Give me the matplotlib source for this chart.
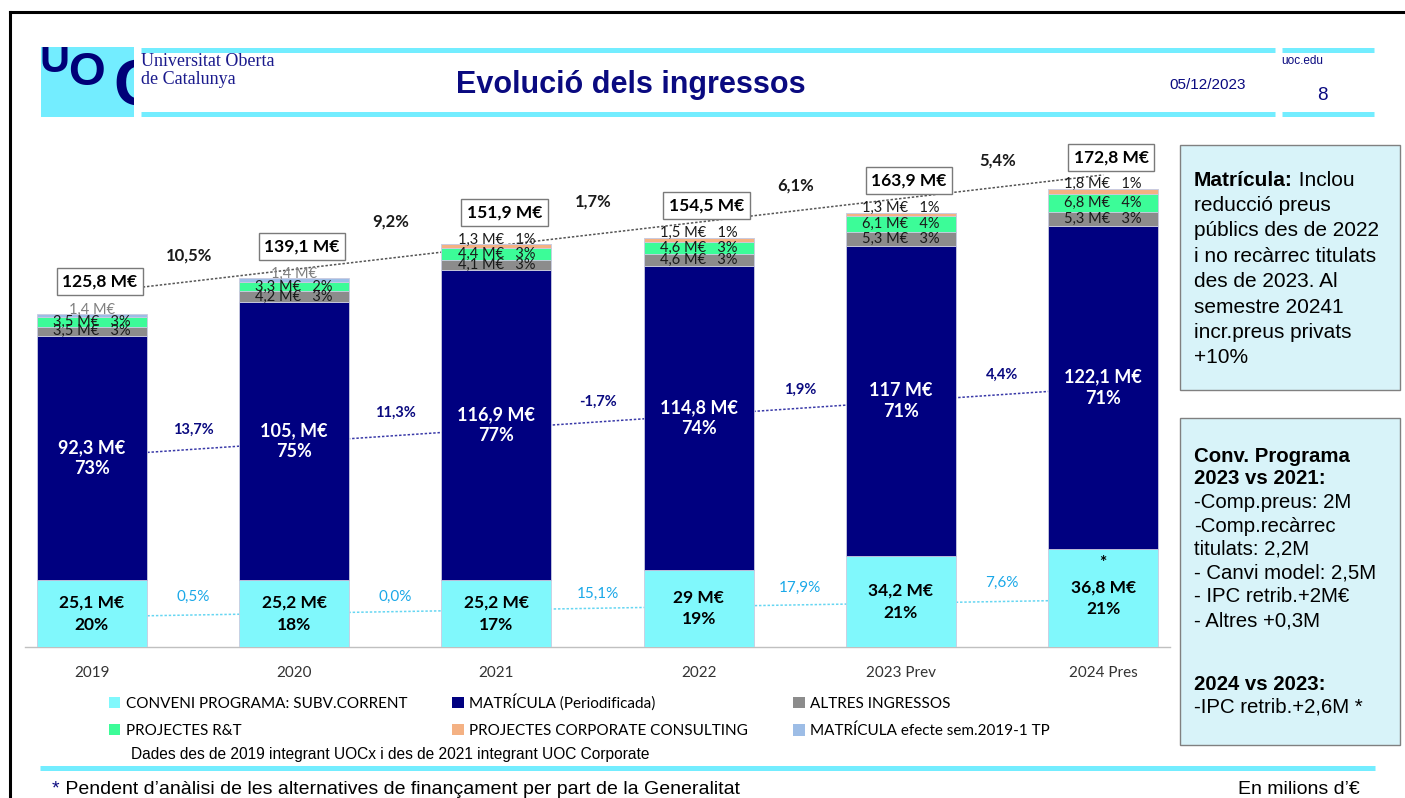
import numpy as np
import matplotlib
matplotlib.use("Agg")
import matplotlib.pyplot as plt
from matplotlib.patches import Rectangle, Patch
from matplotlib import transforms

# ---------------- data ----------------
years = ["2019", "2020", "2021", "2022", "2023 Prev", "2024 Pres"]
conveni = [25.1, 25.2, 25.2, 29.0, 34.2, 36.8]
matricula = [92.3, 105.0, 116.9, 114.8, 117.0, 122.1]
altres = [3.5, 4.2, 4.1, 4.6, 5.3, 5.3]
recerca = [3.5, 3.3, 4.4, 4.6, 6.1, 6.8]
corporate = [0.0, 0.0, 1.3, 1.5, 1.3, 1.8]
efecte = [1.4, 1.4, 0.0, 0.0, 0.0, 0.0]
totals = [125.8, 139.1, 151.9, 154.5, 163.9, 172.8]
mat_text = ["92,3", "105,", "116,9", "114,8", "117", "122,1"]
growth_total = ["10,5%", "9,2%", "1,7%", "6,1%", "5,4%"]
growth_mat = ["13,7%", "11,3%", "-1,7%", "1,9%", "4,4%"]
growth_conv = ["0,5%", "0,0%", "15,1%", "17,9%", "7,6%"]
legend_labels = ["CONVENI PROGRAMA: SUBV.CORRENT", "MATRÍCULA (Periodificada)",
                 "ALTRES INGRESSOS", "PROJECTES R&T",
                 "PROJECTES CORPORATE CONSULTING", "MATRÍCULA efecte sem.2019-1 TP"]

# ---------------- style ----------------
W, H = 1405, 798
P = 0.72  # points per pixel at dpi 100
C_CONV = "#80f8fc"
C_MAT = "#000080"
C_ALT = "#8c8c8c"
C_RT = "#3cfc98"
C_CORP = "#f4b183"
C_EFF = "#9dbde6"
CYAN = "#73edff"
NAVY = "#0a0a80"
CF = "Lato"
AF = "Liberation Sans"

def fmt(v):
    return f"{v:g}".replace(".", ",")

fig = plt.figure(figsize=(W / 100, H / 100), dpi=100)
ov = fig.add_axes([0, 0, 1, 1])
ov.set_xlim(0, W)
ov.set_ylim(H, 0)
ov.axis("off")
ov.set_zorder(0)

# ---------------- slide decorations ----------------
ov.plot([10, W], [12, 12], color="black", lw=2.2)
ov.plot([10, 10], [12, H], color="black", lw=2.2)
logo = Rectangle((41, 47), 93, 70, color=CYAN, lw=0)
ov.add_patch(logo)
for ch, x, y, fs in [("U", 55, 61, 30), ("O", 87, 73, 34), ("C", 137, 88, 47)]:
    t = ov.text(x, y, ch, fontsize=fs, weight="bold", color="#000078", family=AF,
                ha="center", va="center", clip_on=True)
    t.set_clip_path(logo)
ov.text(141, 62, "Universitat Oberta", family="Liberation Serif", fontsize=13,
        color="#1a1a8c", va="center")
ov.text(141, 80, "de Catalunya", family="Liberation Serif", fontsize=13,
        color="#1a1a8c", va="center")
for y in (50, 114):
    ov.plot([141, 1275], [y, y], color=CYAN, lw=3.6, solid_capstyle="butt")
    ov.plot([1282, 1374], [y, y], color=CYAN, lw=3.6, solid_capstyle="butt")
ov.text(631, 85, "Evolució dels ingressos", family=AF, fontsize=22, weight="bold",
        color=NAVY, ha="center", va="center")
ov.text(1208, 85, "05/12/2023", family=AF, fontsize=11, color=NAVY,
        ha="center", va="center")
ov.text(1281, 61, "uoc.edu", family=AF, fontsize=8.5, color=NAVY, va="center")
ov.text(1322, 96, "8", family=AF, fontsize=13.5, color=NAVY, ha="center", va="center")

# right info boxes
FS1 = 15
ov.add_patch(Rectangle((1180, 145), 220, 245, fc="#d8f3f9", ec="#808080", lw=1))
ov.add_patch(Rectangle((1180, 418), 220, 327, fc="#d8f3f9", ec="#808080", lw=1))
t = ov.text(1194, 180, "Matrícula:", family=AF, fontsize=FS1, weight="bold",
            va="center")
ov.annotate(" Inclou", xy=(1, 0), xycoords=t, va="bottom", ha="left",
            family=AF, fontsize=FS1)
box1 = ["reducció preus", "públics des de 2022", "i no recàrrec titulats",
        "des de 2023. Al", "semestre 20241", "incr.preus privats", "+10%"]
for k, line in enumerate(box1):
    ov.text(1194, 205.5 + k * 25.4, line, family=AF, fontsize=FS1, va="center")
box2 = [("Conv. Programa", "bold", 456), ("2023 vs 2021:", "bold", 479),
        ("-Comp.preus: 2M", "normal", 502), ("-Comp.recàrrec", "normal", 526),
        ("titulats: 2,2M", "normal", 549), ("- Canvi model: 2,5M", "normal", 573),
        ("- IPC retrib.+2M€", "normal", 597), ("- Altres +0,3M", "normal", 621),
        ("2024 vs 2023:", "bold", 684), ("-IPC retrib.+2,6M *", "normal", 707)]
for line, w, y in box2:
    ov.text(1194, y, line, family=AF, fontsize=14.7, weight=w, va="center")

# footer
ov.text(131, 755, "Dades des de 2019 integrant UOCx i des de 2021 integrant UOC Corporate",
        family=AF, fontsize=11.2, va="center")
ov.plot([40, 1375], [768, 768], color=CYAN, lw=3.6, solid_capstyle="butt")
t = ov.text(52, 789, "*", family=AF, fontsize=14, color=NAVY, va="center")
ov.annotate(" Pendent d’anàlisi de les alternatives de finançament per part de la Generalitat",
            xy=(1, 0), xycoords=t, va="bottom", ha="left", family=AF, fontsize=14)
ov.text(1360, 789, "En milions d’€", family=AF, fontsize=14, ha="right", va="center")

# ---------------- chart ----------------
ax = fig.add_axes([25 / W, 1 - 647 / H, 1145 / W, (647 - 143) / H])
ax.set_zorder(1)
ax.patch.set_alpha(0)
x = np.arange(len(years))
ax.set_xlim(-0.33, 5.33)
ax.set_ylim(0, 504 / 2.65)

series = [(conveni, C_CONV), (matricula, C_MAT), (altres, C_ALT),
          (recerca, C_RT), (corporate, C_CORP), (efecte, C_EFF)]
bottom = np.zeros(len(years))
bottoms = []
for vals, col in series:
    v = np.array(vals)
    ax.bar(x, v, 0.545, bottom=bottom, color=col, edgecolor="#c9cbe0",
           linewidth=0.6, zorder=3)
    bottoms.append(bottom.copy())
    bottom = bottom + v

tot = np.array(totals)
conv = np.array(conveni)
mat = np.array(matricula)
conv_mid = conv / 2
mat_mid = conv + mat / 2

# trend lines
xs = np.linspace(0, 5, 50)
up = transforms.offset_copy(ax.transData, fig=fig, x=0, y=12 * P, units="points")
ax.plot(xs, np.polyval(np.polyfit(x, tot, 1), xs), color="#555555", lw=1.1,
        ls=(0, (1.6, 1.2)), zorder=2, transform=up)
ax.plot(xs, np.polyval(np.polyfit(x, mat_mid, 1), xs), color="#3a3aa8", lw=1.1,
        ls=(0, (1.6, 1.2)), zorder=2)
ax.plot(xs, np.polyval(np.polyfit(x, conv_mid, 1), xs), color="#66d6f2", lw=1.1,
        ls=(0, (1.6, 1.2)), zorder=2)

# segment labels
for i in range(len(years)):
    ax.text(i, conv_mid[i], f"{fmt(conv[i])} M€\n{round(conv[i] / tot[i] * 100)}%",
            ha="center", va="center", fontsize=12.5, weight="bold", family=CF,
            color="black", linespacing=1.45, zorder=5)
    ax.text(i, mat_mid[i], f"{mat_text[i]} M€\n{round(mat[i] / tot[i] * 100)}%",
            ha="center", va="center", fontsize=13, weight="bold", family=CF,
            color="white", linespacing=1.3, zorder=5)
    for vals, k in [(altres, 2), (recerca, 3)]:
        v = vals[i]
        ax.text(i, bottoms[k][i] + v / 2, f"{fmt(v)} M€   {round(v / tot[i] * 100)}%",
                ha="center", va="center", fontsize=10.5, family=CF, color="#1a1a1a",
                zorder=5)
    if corporate[i] > 0:
        v = corporate[i]
        ax.annotate(f"{fmt(v)} M€   {round(v / tot[i] * 100)}%",
                    xy=(i, bottoms[4][i] + v), xytext=(0, -1.5), textcoords="offset points",
                    ha="center", va="bottom", fontsize=10.5, family=CF, color="#1a1a1a",
                    zorder=5)
    if efecte[i] > 0:
        v = efecte[i]
        ax.annotate(f"{fmt(v)} M€", xy=(i, bottoms[5][i] + v), xytext=(0, -2),
                    textcoords="offset points", ha="center", va="bottom", fontsize=10.5,
                    family=CF, color="#808080", zorder=5)
    ax.annotate(f"{fmt(tot[i])} M€", xy=(i, tot[i]), xytext=(8 * P, 32 * P),
                textcoords="offset points", ha="center", va="center", fontsize=12.5,
                weight="bold", family=CF, zorder=6,
                bbox=dict(boxstyle="square,pad=0.32", fc="white", ec="#7a7a7a", lw=1))

ax.annotate("*", xy=(5, conv_mid[5]), xytext=(0, 35 * P), textcoords="offset points",
            ha="center", va="center", fontsize=12.5, weight="bold", family=CF, zorder=5)

# growth labels between bars
for i in range(len(years) - 1):
    xm = i + 0.5
    ax.annotate(growth_total[i], xy=(xm, (tot[i] + tot[i + 1]) / 2), xytext=(-3, 40 * P),
                textcoords="offset points", ha="center", va="center", fontsize=12,
                weight="bold", family=CF, color="#1a1a1a")
    ax.annotate(growth_mat[i], xy=(xm, (mat_mid[i] + mat_mid[i + 1]) / 2),
                xytext=(0, 20 * P), textcoords="offset points", ha="center",
                va="center", fontsize=10.5, weight="bold", family=CF, color=NAVY)
    ax.annotate(growth_conv[i], xy=(xm, (conv_mid[i] + conv_mid[i + 1]) / 2),
                xytext=(0, 17 * P), textcoords="offset points", ha="center",
                va="center", fontsize=11, family=CF, color="#1aa8e8")

ax.set_xticks(x)
ax.set_xticklabels(years, family=CF, fontsize=11, color="#333333")
ax.tick_params(axis="x", length=0, pad=14)
ax.set_yticks([])
for s in ["top", "left", "right"]:
    ax.spines[s].set_visible(False)
ax.spines["bottom"].set_color("#c0c0c0")
ax.spines["bottom"].set_linewidth(1)

order = [0, 3, 1, 4, 2, 5]
fig.legend([Patch(fc=series[k][1], ec="none") for k in order],
           [legend_labels[k] for k in order], ncol=3, loc="upper left",
           bbox_to_anchor=(109 / W, 1 - 694 / H), frameon=False,
           prop={"family": CF, "size": 11}, handlelength=0.75,
           handleheight=0.75, handletextpad=0.35, columnspacing=2.95,
           labelspacing=0.85, borderaxespad=0, borderpad=0)

fig.savefig("out.png", dpi=100)
